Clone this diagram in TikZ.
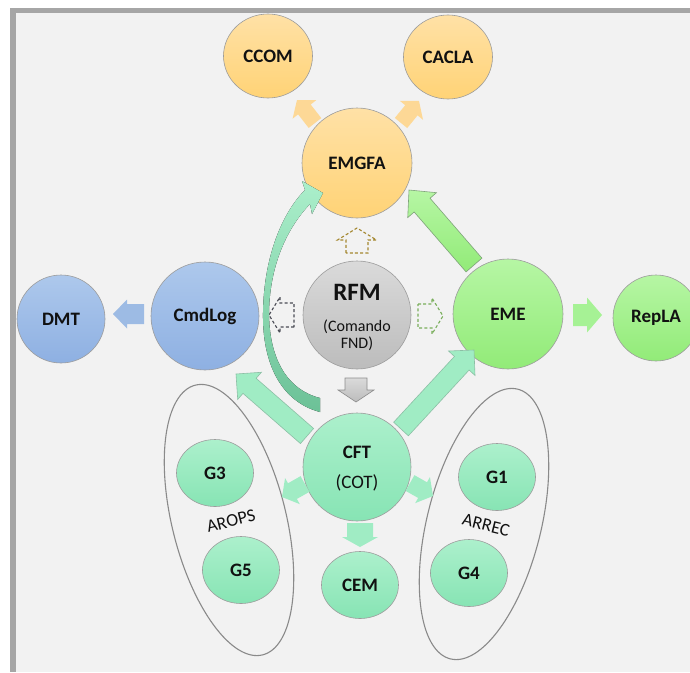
\documentclass[tikz,border=0pt]{standalone}
\usepackage{fontspec}
\setmainfont{Carlito}
\usetikzlibrary{calc,shapes.geometric}

\definecolor{pagegray}{HTML}{F2F2F2}
\definecolor{framegray}{HTML}{A6A6A6}
\definecolor{rimgray}{HTML}{9C9C9C}
\definecolor{groupline}{HTML}{8A8A8A}
\definecolor{inkblack}{HTML}{111111}
\definecolor{goldtop}{HTML}{FFE1A6}
\definecolor{goldbot}{HTML}{FFD376}
\definecolor{bluetop}{HTML}{ADC8EC}
\definecolor{bluebot}{HTML}{8EB0E2}
\definecolor{greytop}{HTML}{DADADA}
\definecolor{greybot}{HTML}{BCBCBC}
\definecolor{limetop}{HTML}{B6F6A4}
\definecolor{limebot}{HTML}{92EB78}
\definecolor{minttop}{HTML}{ACF0CC}
\definecolor{mintbot}{HTML}{87E4B4}
\definecolor{goldarrow}{HTML}{FFD68C}
\definecolor{bluearrow}{HTML}{9DBBE4}
\definecolor{limearrow}{HTML}{A6F295}
\definecolor{mintarrow}{HTML}{A0ECC4}
\definecolor{mintedge}{HTML}{8CBFA5}
\definecolor{limeedge}{HTML}{7FA37A}
\definecolor{greyedge}{HTML}{8C8C8C}
\definecolor{curvetop}{HTML}{ABEFCB}
\definecolor{curvemid}{HTML}{9CE6BF}
\definecolor{curvebot}{HTML}{6CC197}
\definecolor{dashgold}{HTML}{A4872F}
\definecolor{dashslate}{HTML}{4A4B55}
\definecolor{dashgreen}{HTML}{79AE5B}

% block arrow: [style]{tail}{tip}{shaft half width}{head half width}{head length}
\newcommand\blockarrow[6][]{%
  \coordinate (ba-t) at #2;
  \coordinate (ba-p) at #3;
  \coordinate (ba-b) at ($(ba-p)!#6pt!(ba-t)$);
  \path[#1] ($(ba-t)!#4pt!90:(ba-p)$) -- ($(ba-b)!#4pt!-90:(ba-t)$)
    -- ($(ba-b)!#5pt!-90:(ba-t)$) -- (ba-p) -- ($(ba-b)!#5pt!90:(ba-t)$)
    -- ($(ba-b)!#4pt!90:(ba-t)$) -- ($(ba-t)!#4pt!-90:(ba-p)$) -- cycle;
}

\tikzset{
  bubble/.style={circle, draw=rimgray, line width=0.6pt, inner sep=0pt,
    font=\bfseries\fontsize{19}{23}\selectfont, text=inkblack},
  goldfill/.style={top color=goldtop, bottom color=goldbot},
  bluefill/.style={top color=bluetop, bottom color=bluebot},
  greyfill/.style={top color=greytop, bottom color=greybot},
  limefill/.style={top color=limetop, bottom color=limebot},
  mintfill/.style={top color=minttop, bottom color=mintbot},
  groupring/.style={ellipse, draw=groupline, line width=1.1pt, inner sep=0pt,
    minimum width=114pt, minimum height=278pt},
  grouplabel/.style={font=\fontsize{18}{21}\selectfont, text=inkblack, inner sep=0pt},
  smallgroup/.style={ellipse, minimum width=77pt, minimum height=67pt},
  plainlabel/.style={inner sep=0pt, text=inkblack},
  dashedarrow/.style={draw=#1, line width=1.1pt, dash pattern=on 3pt off 2.2pt},
}

\begin{document}
\begin{tikzpicture}[x=1pt,y=-1pt]
\useasboundingbox (0,0) rectangle (690,672);

% sheet and its frame
\fill[white] (0,0) rectangle (690,672);
\fill[framegray] (10,8) rectangle (690,672);
\fill[pagegray] (16,13) rectangle (690,672);

% group rings
\node[groupring, rotate=14] (arops) at (229,520) {};
\node[groupring, rotate=-14] (arrec) at (484,524) {};
\node[grouplabel, rotate=14] at (231,521) {AROPS};
\node[grouplabel, rotate=-14] at (486,525) {ARREC};

% nodes
\node[bubble, goldfill, ellipse, minimum width=89pt, minimum height=84pt] (ccom) at (268,56) {CCOM};
\node[bubble, goldfill, ellipse, minimum width=89pt, minimum height=84pt] (cacla) at (448,57) {CACLA};
\node[bubble, goldfill, minimum size=110pt] (emgfa) at (357,163) {EMGFA};
\node[bubble, greyfill, minimum size=108pt] (rfm) at (357,315) {};
\node[plainlabel, font=\bfseries\fontsize{25}{28}\selectfont] at ([yshift=23pt]rfm.center) {RFM};
\node[plainlabel, font=\fontsize{16}{17}\selectfont, align=center] at ([yshift=-20pt]rfm.center) {(Comando\\FND)};
\node[bubble, bluefill, minimum size=108pt] (cmdlog) at (205,316) {CmdLog};
\node[bubble, bluefill, minimum size=88pt] (dmt) at (61,319) {DMT};
\node[bubble, limefill, minimum size=110pt] (eme) at (508,314) {EME};
\node[bubble, limefill, minimum size=86pt] (repla) at (656,318) {RepLA};
\node[bubble, mintfill, minimum size=108pt] (cft) at (357,467) {};
\node[plainlabel, font=\bfseries\fontsize{19}{23}\selectfont] at ([yshift=15pt]cft.center) {CFT};
\node[plainlabel, font=\fontsize{19}{23}\selectfont] at ([yshift=-16pt]cft.center) {(COT)};
\node[bubble, mintfill, smallgroup] (g3) at (215,473) {G3};
\node[bubble, mintfill, smallgroup] (g5) at (241,570) {G5};
\node[bubble, mintfill, smallgroup] (cem) at (360,585) {CEM};
\node[bubble, mintfill, smallgroup] (g1) at (497,477) {G1};
\node[bubble, mintfill, smallgroup] (g4) at (469,573) {G4};

% block arrows
\blockarrow[fill=goldarrow, fill opacity=0.9]{(315,123)}{(297,100)}{8}{15}{12}
\blockarrow[fill=goldarrow, fill opacity=0.9]{(401,123)}{(419,101)}{8}{15}{12}
\blockarrow[fill=bluearrow]{(144,314)}{(113,314)}{10}{14.5}{14}
\blockarrow[fill=limearrow]{(573,315)}{(602,315)}{11}{17.5}{15}
\blockarrow[top color=limetop, bottom color=limebot, draw=limeedge, line width=0.6pt]{(474,265)}{(409,190)}{10.5}{19}{20}
\blockarrow[fill=mintarrow, draw=mintedge, line width=0.6pt]{(307,436)}{(236,374)}{10}{18}{18}
\blockarrow[fill=mintarrow, draw=mintedge, line width=0.6pt]{(401,429)}{(474,350)}{10}{18}{18}
\blockarrow[top color=greytop, bottom color=greybot, draw=greyedge, line width=0.6pt]{(356,378)}{(356,402)}{11}{18}{12}
\blockarrow[fill=mintarrow]{(360,523)}{(360,547)}{13}{18}{10}
\blockarrow[fill=mintarrow]{(305,484)}{(282,497)}{9}{15}{12}
\blockarrow[fill=mintarrow]{(410,483)}{(433,496)}{9}{15}{12}

% dashed outline arrows around RFM
\blockarrow[dashedarrow=dashgold]{(357,253)}{(357,228)}{11}{19.5}{12}
\blockarrow[dashedarrow=dashslate]{(294,315)}{(269,315)}{12}{18}{11}
\blockarrow[dashedarrow=dashgreen]{(418,316)}{(443,316)}{12}{18}{11}

% curved arrow from CFT up to EMGFA
\fill[top color=curvetop, middle color=curvemid, bottom color=curvebot]
  (320,412) .. controls (282,402) and (262,365) .. (263,312)
  .. controls (264,255) and (283,212) .. (305,190)
  -- (302,181) -- (323,193) -- (312,214) -- (310,204)
  .. controls (289,226) and (270,262) .. (269,312)
  .. controls (269,360) and (288,390) .. (320,398) -- cycle;
\end{tikzpicture}
\end{document}
